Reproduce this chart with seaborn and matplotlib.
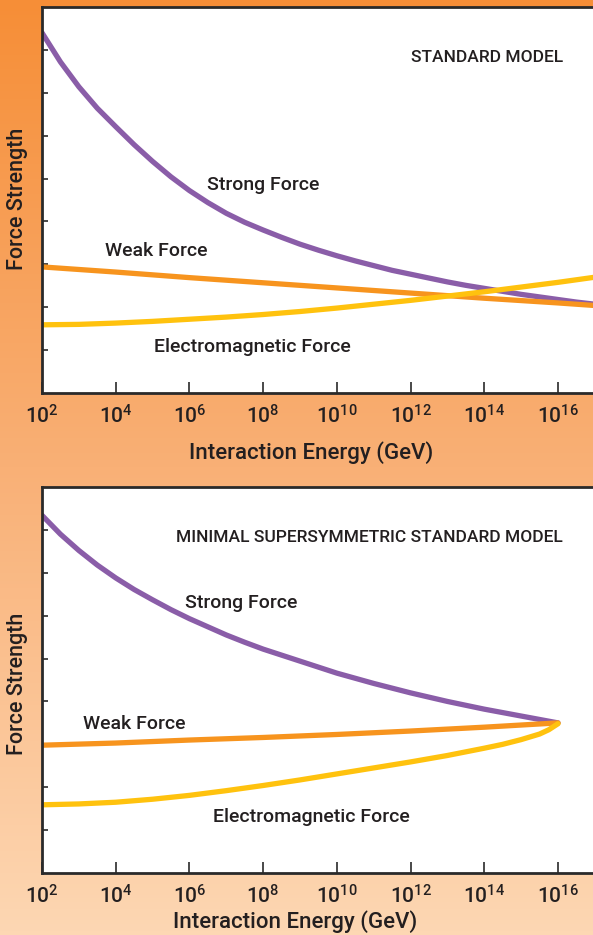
import numpy as np
import pandas as pd
import matplotlib
matplotlib.use("Agg")
import matplotlib.pyplot as plt
from matplotlib.colors import LinearSegmentedColormap
import seaborn as sns

# --- data (exponent of energy in GeV, force strength) ---
sm_exp_strong = [2.0, 2.5, 3.0, 3.5, 4.0, 4.5, 5.0, 5.5, 6.0, 6.5, 7.0, 7.5, 8.0, 8.5,
                 9.0, 9.5, 10.0, 10.5, 11.0, 11.5, 12.0, 12.5, 13.0, 13.5, 14.0,
                 14.5, 15.0, 15.5, 16.0, 16.5, 17.0]
sm_strong = [8.40, 7.72, 7.14, 6.64, 6.21, 5.79, 5.40, 5.04, 4.72, 4.44, 4.19, 3.98,
             3.80, 3.63, 3.47, 3.33, 3.20, 3.08, 2.97, 2.86, 2.77, 2.68, 2.59, 2.51,
             2.44, 2.37, 2.30, 2.24, 2.18, 2.12, 2.07]
sm_exp_weak = [2, 4, 6, 8, 10, 12, 14, 16, 17]
sm_weak = [2.94, 2.82, 2.69, 2.57, 2.45, 2.33, 2.21, 2.10, 2.04]
sm_exp_em = [2, 3, 4, 5, 6, 7, 8, 9, 10, 11, 12, 13, 14, 15, 16, 17]
sm_em = [1.59, 1.60, 1.63, 1.67, 1.72, 1.77, 1.83, 1.90, 1.98, 2.07, 2.16, 2.26,
         2.36, 2.47, 2.58, 2.70]

mssm_exp_strong = [2.0, 2.5, 3.0, 3.5, 4.0, 4.5, 5.0, 5.5, 6.0, 6.5, 7.0, 7.5, 8.0,
                   8.5, 9.0, 9.5, 10.0, 10.5, 11.0, 11.5, 12.0, 12.5, 13.0, 13.5,
                   14.0, 14.5, 15.0, 15.5, 16.0]
mssm_strong = [8.34, 7.90, 7.52, 7.18, 6.88, 6.61, 6.37, 6.14, 5.93, 5.74, 5.55, 5.38,
               5.22, 5.08, 4.94, 4.80, 4.66, 4.54, 4.42, 4.31, 4.20, 4.10, 4.00, 3.91,
               3.82, 3.74, 3.66, 3.58, 3.50]
mssm_exp_weak = [2, 4, 6, 8, 10, 12, 14, 16]
mssm_weak = [2.98, 3.03, 3.10, 3.16, 3.23, 3.31, 3.40, 3.50]
mssm_exp_em = [2, 3, 4, 5, 6, 7, 8, 9, 10, 11, 12, 13, 14, 14.5, 15, 15.5, 15.75, 16]
mssm_em = [1.59, 1.61, 1.65, 1.72, 1.81, 1.92, 2.04, 2.17, 2.31, 2.45, 2.59, 2.74,
           2.91, 3.00, 3.11, 3.24, 3.34, 3.48]

tick_exps = [2, 4, 6, 8, 10, 12, 14, 16]

PURPLE = "#8A5DA8"
ORANGE = "#F7941E"
YELLOW = "#FFC20E"
TEXT = "#231F20"

sns.set_theme(style="white")
plt.rcParams["font.family"] = ["Roboto", "DejaVu Sans"]
plt.rcParams["font.weight"] = "medium"
plt.rcParams["axes.labelweight"] = "medium"
plt.rcParams["mathtext.fontset"] = "custom"
plt.rcParams["mathtext.rm"] = "Roboto:medium"
plt.rcParams["text.color"] = TEXT

fig = plt.figure(figsize=(5.93, 9.35), dpi=100)

# orange gradient background
bg = fig.add_axes([0, 0, 1, 1], zorder=-10)
cmap = LinearSegmentedColormap.from_list(
    "bg", [(0.0, "#F68E37"), (0.5, "#F9B076"), (1.0, "#FDD7B3")])
bg.imshow(np.linspace(0, 1, 256).reshape(-1, 1), aspect="auto", cmap=cmap,
          extent=[0, 1, 0, 1])
bg.set_axis_off()


def draw_panel(ax, curves, title, labels, xlab_pos, ylab_y):
    for exps, vals, color in curves:
        df = pd.DataFrame({"E": [10.0 ** e for e in exps], "F": vals})
        sns.lineplot(data=df, x="E", y="F", ax=ax, color=color, linewidth=3.8,
                     sort=False, estimator=None, solid_capstyle="round",
                     solid_joinstyle="round")
    ax.set_xscale("log")
    ax.set_xlim(1e2, 10 ** 16.95)
    ax.set_ylim(0, 9)
    ax.set_facecolor("white")
    for s in ["left", "bottom", "top"]:
        ax.spines[s].set_color("#2A2A2A")
        ax.spines[s].set_linewidth(2)
    ax.spines["right"].set_visible(False)
    ax.set_xticks([10.0 ** e for e in tick_exps])
    ax.set_xticklabels([r"$\mathregular{10^{%d}}$" % e for e in tick_exps])
    ax.xaxis.set_minor_locator(matplotlib.ticker.NullLocator())
    ax.tick_params(axis="x", direction="in", length=8, width=1.2,
                   color="#2A2A2A", labelsize=15, pad=8, labelcolor=TEXT,
                   bottom=True)
    ax.set_yticks(range(1, 9))
    ax.set_yticklabels([])
    ax.tick_params(axis="y", direction="in", length=4, width=1.2,
                   color="#2A2A2A", left=True)
    ax.set_ylabel("Force Strength", fontsize=15.5, color=TEXT,
                  fontweight="medium")
    ax.yaxis.set_label_coords(-0.044, ylab_y)
    ax.yaxis.label.set_va("center")
    ax.set_xlabel("Interaction Energy (GeV)", fontsize=16, color=TEXT,
                  fontweight="medium")
    ax.xaxis.set_label_coords(*xlab_pos)
    ax.xaxis.label.set_va("center")
    ax.text(0.945, title[1], title[0], transform=ax.transAxes, ha="right",
            va="center", fontsize=12.5)
    for txt, ex, y in labels:
        ax.text(10.0 ** ex, y, txt, ha="center", va="center", fontsize=14)


ax1 = fig.add_axes([42 / 593, 1 - 393 / 935, 1 - 42 / 593, 386 / 935])
draw_panel(ax1,
           [(sm_exp_strong, sm_strong, PURPLE),
            (sm_exp_weak, sm_weak, ORANGE),
            (sm_exp_em, sm_em, YELLOW)],
           ("STANDARD MODEL", 0.87),
           [("Strong Force", 8.0, 4.85), ("Weak Force", 5.1, 3.3),
            ("Electromagnetic Force", 7.7, 1.07)],
           (0.488, -0.155), 0.503)

ax2 = fig.add_axes([42 / 593, 1 - 873 / 935, 1 - 42 / 593, 386 / 935])
draw_panel(ax2,
           [(mssm_exp_strong, mssm_strong, PURPLE),
            (mssm_exp_weak, mssm_weak, ORANGE),
            (mssm_exp_em, mssm_em, YELLOW)],
           ("MINIMAL SUPERSYMMETRIC STANDARD MODEL", 0.87),
           [("Strong Force", 7.4, 6.3), ("Weak Force", 4.5, 3.47),
            ("Electromagnetic Force", 9.3, 1.3)],
           (0.459, -0.127), 0.49)

fig.savefig("out.png", dpi=100)
